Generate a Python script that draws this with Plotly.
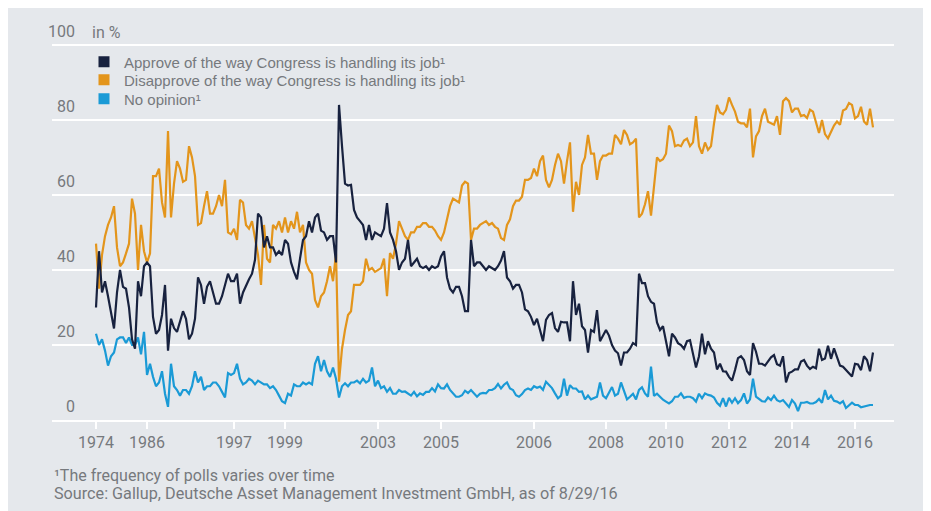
import plotly.graph_objects as go

# Gallup: Congress job approval, in % (one entry per poll, polls evenly spaced on the x axis)
approve = [30, 45, 34, 37, 33, 28.5, 24.4, 34, 40, 35.5, 35, 30, 21.5, 19, 37, 33, 41, 42, 41, 27.5,
           23, 24, 28, 36, 18.5, 27, 24.5, 23.5, 26, 29, 27, 21.5, 23, 27, 38, 36, 31, 35.5, 37, 34,
           31, 31, 33, 36, 39, 37, 37, 39, 31, 34, 36,
           37.5, 39, 42.7, 55, 54, 46, 49, 46, 46, 44, 45, 44, 48, 47, 42, 39.5, 37.5, 43, 48, 49,
           53, 50, 54, 55, 50.5, 50, 48, 49, 49, 42, 84, 73, 63, 62.5, 62.7, 56, 54, 53, 52, 48,
           52, 48, 50, 49.5, 49, 51, 57.8, 50, 48, 45, 40, 42,
           43, 48, 41, 42, 43, 41, 40.5, 41, 40, 41, 40.5, 41, 43.6, 45, 38, 35, 34, 35.5, 35.5, 33,
           29, 29, 48, 41, 42, 42, 41, 40, 41, 40.5, 40, 41, 42.5, 45, 38, 37, 35, 36, 36, 34,
           29.5, 29, 27.5, 25.3, 27, 24, 21, 26.7, 28, 28.5, 24.5, 23.5,
           26.2, 26, 26, 21, 37, 28, 31, 25, 24, 18, 24, 23.5, 29.3, 21, 22.5, 24, 22.5, 20, 18.5, 17.8,
           14.5, 18, 18, 19, 20.5, 20, 39, 36.5, 36.5, 33, 31.5, 31, 26, 24, 25, 21, 17, 23, 22, 20.5,
           20, 19, 21, 21.3, 18, 14, 17, 23, 17.5, 21, 19, 18,
           13.5, 15, 13, 12.9, 11.5, 10.5, 13.3, 16.5, 17, 16, 13, 12, 20.5, 18.2, 15, 15, 14.5, 15.5,
           16.7, 17.3, 14.9, 14.5, 17, 10, 12.5, 12.9, 13.5, 13.5, 15.6, 16, 14.5, 13.6, 14.2, 13.8,
           19, 16, 16.4, 19.8, 16.3, 19.1, 17, 14.5, 14.2, 13.3, 12.5, 11.6, 15, 14.8, 13.3, 17, 16,
           13, 18]

disapprove = [47, 35, 44, 49, 52, 54, 57, 46, 41, 42, 44.4, 47, 59, 55, 40, 52, 45, 42, 44.4, 65,
              65, 67, 58, 54, 77, 54, 63, 69, 67, 63.5, 64, 73, 70, 65, 52, 52.5, 57, 61, 55, 55,
              57, 60, 57, 64, 50, 49.5, 51, 48, 58.7, 58, 52,
              51, 53, 48, 44, 36, 52, 43, 42, 52, 51, 53, 50, 54, 50, 53, 51, 55.5, 50, 52, 42,
              40, 39, 32, 30, 33, 34, 37, 41, 37, 44.4, 10.2, 19, 24, 28, 29, 36, 36, 36, 37, 43,
              40, 40.5, 39.5, 40, 40.5, 43, 33, 44.5, 43, 47, 53, 51,
              49, 48, 50, 50, 51.5, 51.5, 52.5, 52.5, 51.5, 51.5, 50.5, 49, 48, 50, 54, 57, 59, 58.5,
              58, 62.5, 63.5, 63, 48, 51, 51, 52, 52.5, 53, 52, 52.5, 51.5, 51, 48.5, 48, 52, 53.5,
              57, 58.5, 58.5, 59.5, 64, 64, 64.5, 67, 65, 69, 70.5, 64, 62, 64, 68, 71,
              69, 63, 69, 74, 55.5, 63.5, 60, 68, 70, 76, 71, 71, 64, 69, 70.5, 70.5, 71, 71, 76, 75,
              73.5, 77.3, 76, 73.5, 74, 75, 54, 55, 57.5, 61, 54.5, 62, 70, 69, 69.5, 71, 78.5, 77,
              73, 73.3, 73, 74.5, 75, 73, 74, 81, 73, 71, 74, 72, 73, 79,
              84, 82, 81.5, 82.7, 86, 84, 82.2, 79.5, 79.1, 79.1, 78, 83, 70, 75.6, 77, 81, 83, 79.5,
              79, 78.7, 81, 76, 85, 85.8, 85, 82, 83, 83, 81, 81.3, 80.5, 82.7, 82.2, 79.6, 76.5, 80,
              76.2, 75.1, 77, 78.5, 79.6, 78.7, 82.5, 82.9, 84.5, 84, 80.4, 81, 83.5, 79.6, 78.7,
              83, 78]

no_opinion = [23, 20, 21.5, 18.5, 14.5, 17, 18, 21.5, 22, 22, 20.5, 22, 20, 20, 22, 17.5, 23.5, 12,
              15, 11.5, 9, 10, 13, 7, 3.5, 15, 9, 8, 6.5, 8, 8, 7, 9, 13, 10, 11.5, 8, 9, 9, 10, 10,
              9, 7.5, 6, 12.5, 12, 12.5, 15, 11, 9.5, 10,
              11, 10.5, 9.5, 10.5, 10, 9.5, 9.5, 8.5, 9, 8, 6.5, 5, 4.5, 7, 6.5, 9.5, 9, 9, 10, 9.5,
              10, 9.5, 15, 17, 13, 16, 13, 11.5, 14, 11, 6, 9, 9.8, 9, 10, 10, 10.5, 9.8, 11, 10,
              10.5, 14, 9, 10.5, 8.5, 9, 7.5, 8.5, 7, 7, 8, 7.5,
              7.6, 7, 6.5, 7.5, 6.3, 7.1, 6.7, 7.5, 7.5, 8.5, 7.6, 9.5, 8.5, 8.4, 9.5, 8, 7.2, 6.2,
              6.2, 6.6, 7.8, 7.2, 8, 7, 6.2, 7, 7.2, 7.1, 8, 8, 8.5, 9.6, 8.4, 9.4, 10, 8.4, 8, 6.6,
              6.2, 6.9, 8, 8.4, 8, 9, 8.6, 8.9, 8, 10.2, 9.2, 8.5, 7.1, 5.8,
              6.5, 11, 6.5, 9.3, 8.4, 8.4, 7.5, 7.6, 5.5, 6.5, 5.5, 5.8, 6.2, 10, 6.5, 5.8, 7.2, 8.8,
              6.5, 7, 10, 7.5, 5.5, 6.2, 7, 5.5, 8, 8.7, 7.1, 6.2, 14.2, 6.4, 7, 6.2, 5.4, 4.9, 4.4,
              5, 6.2, 6.2, 7.1, 5.9, 6.2, 6.2, 5.8, 4.9, 7, 5.8, 7.1, 6.7, 6.5, 6,
              4.6, 3.8, 5.8, 3.6, 5.9, 4.6, 5.8, 4.5, 5.3, 7.1, 4.4, 5.5, 11, 6.2, 5.5, 5, 4.9, 6,
              5.3, 6.5, 5.3, 4.9, 5.3, 4.4, 3.5, 5.3, 4.4, 2.4, 4.6, 4.6, 4.8, 4.4, 4.4, 4.8, 5.6,
              4.6, 8, 5.5, 6.5, 5.1, 4.9, 4.4, 5, 3.2, 3.8, 4.6, 4, 4, 3.4, 3.6, 4, 4, 4]

# poll index at which each labelled year starts
tick_polls = [0, 17, 46, 63, 94, 115, 146, 170, 190, 211, 232, 253]
tick_labels = ["1974", "1986", "1997", "1999", "2003", "2005", "2006", "2008", "2010", "2012", "2014", "2016"]
y_ticks = [0, 20, 40, 60, 80, 100]

series_names = ["Approve of the way Congress is handling its job¹",
                "Disapprove of the way Congress is handling its job¹",
                "No opinion¹"]

C_APP = "#18223f"
C_DIS = "#e3951c"
C_NO = "#1a9ad6"
BG = "#e5e8ec"
TXT = "#76797d"
COND = "Roboto, Liberation Sans, sans-serif"
REG = "Liberation Sans, Arial, sans-serif"

polls = list(range(len(approve)))

fig = go.Figure()
fig.add_trace(go.Scatter(x=polls, y=no_opinion, mode="lines", line=dict(color=C_NO, width=2.2),
                         showlegend=False, hoverinfo="skip"))
fig.add_trace(go.Scatter(x=polls, y=disapprove, mode="lines", line=dict(color=C_DIS, width=2.2),
                         showlegend=False, hoverinfo="skip"))
fig.add_trace(go.Scatter(x=polls, y=approve, mode="lines", line=dict(color=C_APP, width=2.2),
                         showlegend=False, hoverinfo="skip"))

# square legend keys, one legend box per row so the rows can be spaced like the original
legend_ids = ["legend", "legend2", "legend3"]
for name, col, lid in zip(series_names, [C_APP, C_DIS, C_NO], legend_ids):
    fig.add_trace(go.Scatter(x=[None], y=[None], mode="markers", name=name, legend=lid,
                             marker=dict(symbol="square", size=11, color=col, line=dict(width=0))))

annotations = []
for v in y_ticks:
    annotations.append(dict(x=0.0297, xref="paper", y=v, yref="y", text=str(v), showarrow=False,
                            xanchor="right", yanchor="bottom", yshift=2,
                            font=dict(family=COND, size=16, color=TXT)))
annotations.append(dict(x=0.045, xref="paper", y=1.029, yref="paper", text="in %", showarrow=False,
                        xanchor="left", yanchor="middle", font=dict(family=COND, size=16, color=TXT)))
annotations.append(dict(x=0, xref="paper", y=-0.146, yref="paper",
                        text="¹The frequency of polls varies over time", showarrow=False,
                        xanchor="left", yanchor="middle", font=dict(family=COND, size=16, color=TXT)))
annotations.append(dict(x=0, xref="paper", y=-0.194, yref="paper",
                        text="Source: Gallup, Deutsche Asset Management Investment GmbH, as of 8/29/16",
                        showarrow=False, xanchor="left", yanchor="middle",
                        font=dict(family=COND, size=16.2, color=TXT)))

legend_common = dict(x=0.038, xanchor="left", yanchor="middle", bgcolor="rgba(0,0,0,0)",
                     font=dict(family=REG, size=15, color=TXT), itemwidth=30)

fig.update_layout(
    width=931, height=511,
    margin=dict(l=44, r=45, t=35, b=99),
    paper_bgcolor=BG,
    plot_bgcolor=BG,
    annotations=annotations,
    showlegend=True,
    legend=dict(y=0.9496, **legend_common),
    legend2=dict(y=0.9019, **legend_common),
    legend3=dict(y=0.8515, **legend_common),
    xaxis=dict(range=[-14.67, 266], tickmode="array", tickvals=tick_polls, ticktext=tick_labels,
               showgrid=False, zeroline=False, showline=True, linecolor="white", linewidth=2,
               ticks="outside", ticklen=7, tickwidth=1.5, tickcolor="white",
               tickfont=dict(family=COND, size=16, color=TXT)),
    yaxis=dict(range=[0, 100.5], tickmode="array", tickvals=y_ticks[1:], showticklabels=False,
               showgrid=True, gridcolor="white", gridwidth=2, zeroline=False, showline=False),
    hovermode=False,
)

fig.write_html("out.html")
